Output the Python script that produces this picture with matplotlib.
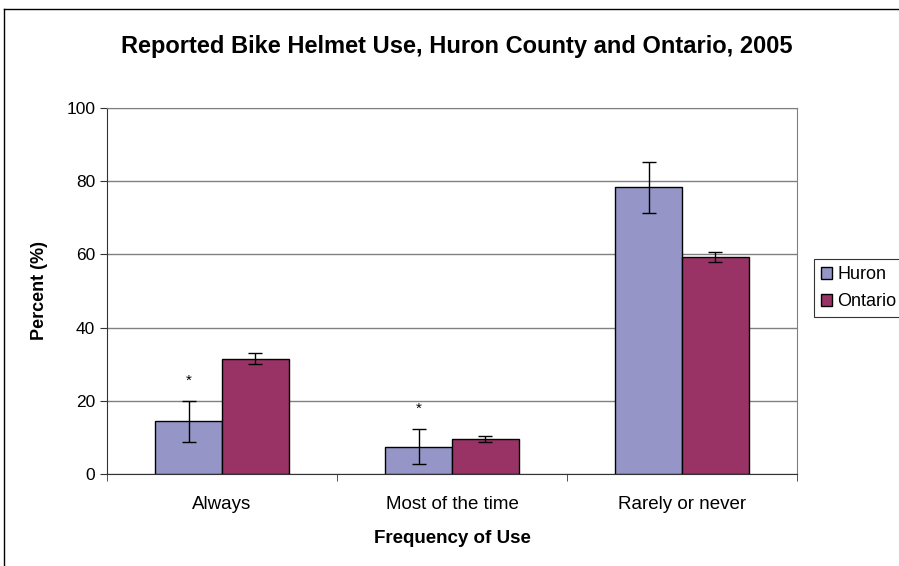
import numpy as np
import matplotlib.pyplot as plt
from matplotlib.lines import Line2D

plt.rcParams['font.family'] = ['Liberation Sans', 'DejaVu Sans']

# Data
categories = ['Always', 'Most of the time', 'Rarely or never']
huron = [14.5, 7.5, 78.3]
huron_low = [8.7, 2.6, 71.3]
huron_high = [20.0, 12.4, 85.3]
ontario = [31.4, 9.5, 59.3]
ontario_low = [30.0, 8.7, 57.8]
ontario_high = [33.0, 10.4, 60.7]
significant = [True, True, False]

huron_color = '#9595C8'
ontario_color = '#993366'

fig = plt.figure(figsize=(8.99, 5.66), dpi=100)
ax = fig.add_axes([107 / 899, 92 / 566, 690 / 899, 366 / 566])

x = np.arange(len(categories))
w = 0.29

huron_err = [np.array(huron) - np.array(huron_low), np.array(huron_high) - np.array(huron)]
ontario_err = [np.array(ontario) - np.array(ontario_low), np.array(ontario_high) - np.array(ontario)]

ax.bar(x - w / 2, huron, w, color=huron_color, edgecolor='black', linewidth=1.0,
       label='Huron', zorder=3)
ax.bar(x + w / 2, ontario, w, color=ontario_color, edgecolor='black', linewidth=1.0,
       label='Ontario', zorder=3)
ax.errorbar(x - w / 2, huron, yerr=huron_err, fmt='none', ecolor='black',
            elinewidth=1.0, capsize=5, capthick=1.0, zorder=4)
ax.errorbar(x + w / 2, ontario, yerr=ontario_err, fmt='none', ecolor='black',
            elinewidth=1.0, capsize=5, capthick=1.0, zorder=4)

# asterisks for estimates with high variability
for i, flag in enumerate(significant):
    if flag:
        ax.text(x[i] - w / 2, huron_high[i] + 3.5, '*', ha='center', va='bottom',
                fontsize=11)

ax.set_xlim(-0.5, 2.5)
ax.set_ylim(0, 100)
ax.set_yticks(range(0, 101, 20))
ax.set_xticks(x)
ax.set_xticklabels(categories, fontsize=13.5)
ax.tick_params(axis='x', length=0, pad=16)
ax.set_xticks([-0.5, 0.5, 1.5, 2.5], minor=True)
ax.tick_params(axis='x', which='minor', length=5, direction='out', color='#333333')
ax.tick_params(axis='y', labelsize=12.5, length=5, direction='out', color='#333333')
ax.grid(axis='y', color='#808080', linewidth=1.0, zorder=0)

for side in ['top', 'right']:
    ax.spines[side].set_color('#808080')
for side in ['left', 'bottom']:
    ax.spines[side].set_color('#333333')

ax.set_xlabel('Frequency of Use', fontsize=13.5, fontweight='bold', labelpad=12)
ax.set_ylabel('Percent (%)', fontsize=13, fontweight='bold', labelpad=13)

fig.text(457 / 899, 1 - 47 / 566, 'Reported Bike Helmet Use, Huron County and Ontario, 2005',
         ha='center', va='center', fontsize=17, fontweight='bold')

leg = ax.legend(loc='upper left', bbox_to_anchor=(814 / 899, 1 - 259 / 566),
                bbox_transform=fig.transFigure, frameon=True, fancybox=False,
                fontsize=13, handlelength=0.6, handleheight=0.6, handletextpad=0.3,
                borderpad=0.4, labelspacing=0.55, borderaxespad=0)
leg.get_frame().set_edgecolor('black')
leg.get_frame().set_linewidth(0.8)

# outer chart border (left and top edges visible)
fig.add_artist(Line2D([4 / 899, 4 / 899], [0, 1 - 9 / 566], transform=fig.transFigure,
                      color='black', linewidth=1.0))
fig.add_artist(Line2D([4 / 899, 1], [1 - 9 / 566, 1 - 9 / 566], transform=fig.transFigure,
                      color='black', linewidth=1.0))

fig.savefig('out.png', dpi=100)
